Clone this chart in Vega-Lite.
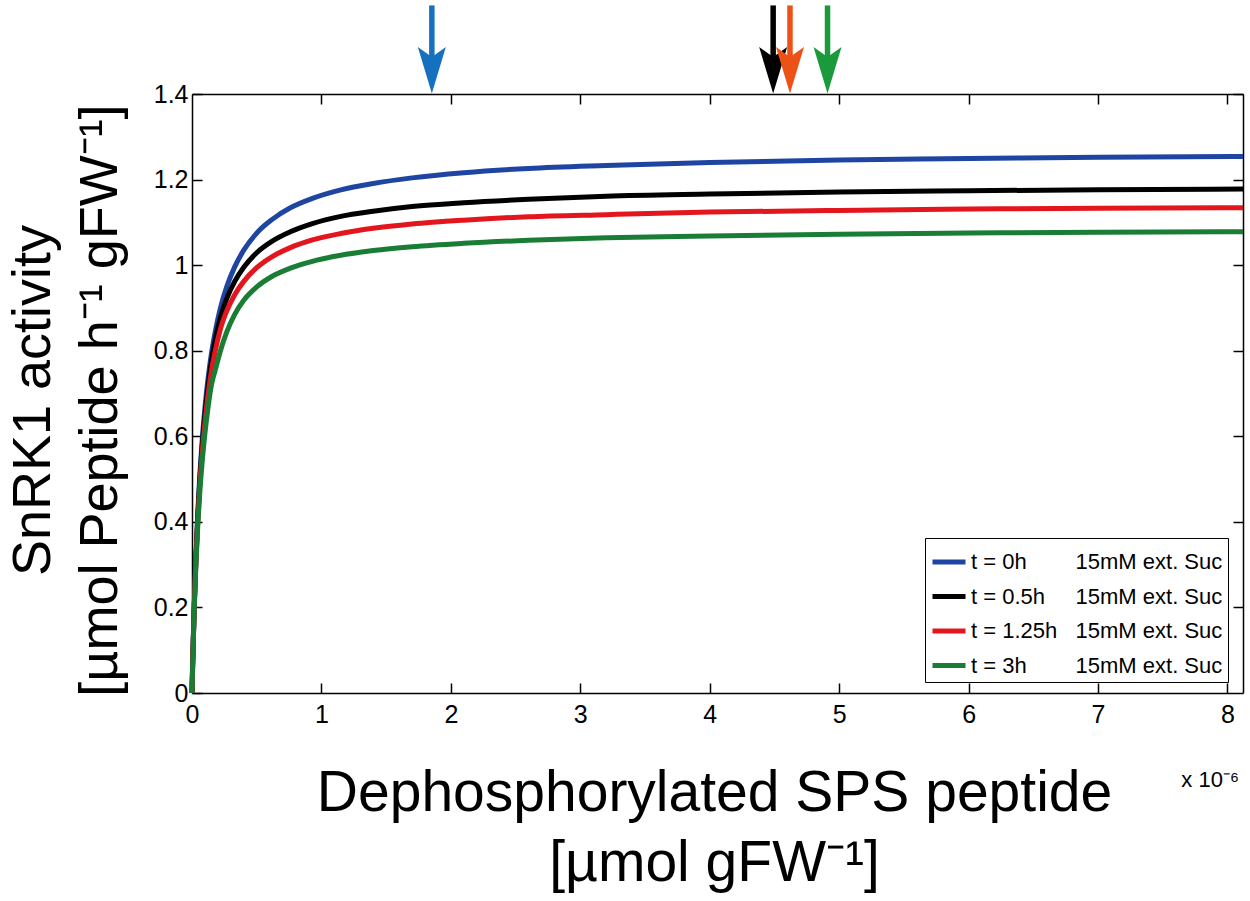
{
  "$schema": "https://vega.github.io/schema/vega-lite/v6.json",
  "width": 1051,
  "height": 599,
  "autosize": {"type": "none"},
  "padding": {"left": 192, "top": 94, "right": 7, "bottom": 208},
  "background": "white",
  "datasets": {
    "curves": [
      {"time": "t = 0h", "peptide": 0, "activity": 0},
      {"time": "t = 0h", "peptide": 0.005, "activity": 0.067},
      {"time": "t = 0h", "peptide": 0.01, "activity": 0.127},
      {"time": "t = 0h", "peptide": 0.02, "activity": 0.231},
      {"time": "t = 0h", "peptide": 0.03, "activity": 0.317},
      {"time": "t = 0h", "peptide": 0.045, "activity": 0.423},
      {"time": "t = 0h", "peptide": 0.06, "activity": 0.507},
      {"time": "t = 0h", "peptide": 0.08, "activity": 0.597},
      {"time": "t = 0h", "peptide": 0.1, "activity": 0.667},
      {"time": "t = 0h", "peptide": 0.125, "activity": 0.737},
      {"time": "t = 0h", "peptide": 0.15, "activity": 0.793},
      {"time": "t = 0h", "peptide": 0.18, "activity": 0.845},
      {"time": "t = 0h", "peptide": 0.22, "activity": 0.9},
      {"time": "t = 0h", "peptide": 0.27, "activity": 0.951},
      {"time": "t = 0h", "peptide": 0.33, "activity": 0.996},
      {"time": "t = 0h", "peptide": 0.4, "activity": 1.035},
      {"time": "t = 0h", "peptide": 0.5, "activity": 1.075},
      {"time": "t = 0h", "peptide": 0.62, "activity": 1.107},
      {"time": "t = 0h", "peptide": 0.76, "activity": 1.134},
      {"time": "t = 0h", "peptide": 0.93, "activity": 1.156},
      {"time": "t = 0h", "peptide": 1.15, "activity": 1.176},
      {"time": "t = 0h", "peptide": 1.4, "activity": 1.191},
      {"time": "t = 0h", "peptide": 1.7, "activity": 1.204},
      {"time": "t = 0h", "peptide": 2.1, "activity": 1.216},
      {"time": "t = 0h", "peptide": 2.6, "activity": 1.226},
      {"time": "t = 0h", "peptide": 3.2, "activity": 1.233},
      {"time": "t = 0h", "peptide": 4, "activity": 1.24},
      {"time": "t = 0h", "peptide": 5, "activity": 1.246},
      {"time": "t = 0h", "peptide": 6, "activity": 1.249},
      {"time": "t = 0h", "peptide": 7, "activity": 1.252},
      {"time": "t = 0h", "peptide": 8.12, "activity": 1.254},
      {"time": "t = 0.5h", "peptide": 0, "activity": 0},
      {"time": "t = 0.5h", "peptide": 0.005, "activity": 0.066},
      {"time": "t = 0.5h", "peptide": 0.01, "activity": 0.125},
      {"time": "t = 0.5h", "peptide": 0.02, "activity": 0.228},
      {"time": "t = 0.5h", "peptide": 0.03, "activity": 0.312},
      {"time": "t = 0.5h", "peptide": 0.045, "activity": 0.414},
      {"time": "t = 0.5h", "peptide": 0.06, "activity": 0.495},
      {"time": "t = 0.5h", "peptide": 0.08, "activity": 0.582},
      {"time": "t = 0.5h", "peptide": 0.1, "activity": 0.65},
      {"time": "t = 0.5h", "peptide": 0.125, "activity": 0.718},
      {"time": "t = 0.5h", "peptide": 0.15, "activity": 0.775},
      {"time": "t = 0.5h", "peptide": 0.18, "activity": 0.826},
      {"time": "t = 0.5h", "peptide": 0.22, "activity": 0.878},
      {"time": "t = 0.5h", "peptide": 0.27, "activity": 0.923},
      {"time": "t = 0.5h", "peptide": 0.33, "activity": 0.962},
      {"time": "t = 0.5h", "peptide": 0.4, "activity": 0.995},
      {"time": "t = 0.5h", "peptide": 0.5, "activity": 1.029},
      {"time": "t = 0.5h", "peptide": 0.62, "activity": 1.056},
      {"time": "t = 0.5h", "peptide": 0.76, "activity": 1.078},
      {"time": "t = 0.5h", "peptide": 0.93, "activity": 1.097},
      {"time": "t = 0.5h", "peptide": 1.15, "activity": 1.114},
      {"time": "t = 0.5h", "peptide": 1.4, "activity": 1.126},
      {"time": "t = 0.5h", "peptide": 1.7, "activity": 1.137},
      {"time": "t = 0.5h", "peptide": 2.1, "activity": 1.146},
      {"time": "t = 0.5h", "peptide": 2.6, "activity": 1.154},
      {"time": "t = 0.5h", "peptide": 3.2, "activity": 1.161},
      {"time": "t = 0.5h", "peptide": 4, "activity": 1.166},
      {"time": "t = 0.5h", "peptide": 5, "activity": 1.171},
      {"time": "t = 0.5h", "peptide": 6, "activity": 1.174},
      {"time": "t = 0.5h", "peptide": 7, "activity": 1.176},
      {"time": "t = 0.5h", "peptide": 8.12, "activity": 1.178},
      {"time": "t = 1.25h", "peptide": 0, "activity": 0},
      {"time": "t = 1.25h", "peptide": 0.005, "activity": 0.065},
      {"time": "t = 1.25h", "peptide": 0.01, "activity": 0.123},
      {"time": "t = 1.25h", "peptide": 0.02, "activity": 0.224},
      {"time": "t = 1.25h", "peptide": 0.03, "activity": 0.306},
      {"time": "t = 1.25h", "peptide": 0.045, "activity": 0.405},
      {"time": "t = 1.25h", "peptide": 0.06, "activity": 0.484},
      {"time": "t = 1.25h", "peptide": 0.08, "activity": 0.566},
      {"time": "t = 1.25h", "peptide": 0.1, "activity": 0.632},
      {"time": "t = 1.25h", "peptide": 0.125, "activity": 0.7},
      {"time": "t = 1.25h", "peptide": 0.15, "activity": 0.752},
      {"time": "t = 1.25h", "peptide": 0.18, "activity": 0.8},
      {"time": "t = 1.25h", "peptide": 0.22, "activity": 0.851},
      {"time": "t = 1.25h", "peptide": 0.27, "activity": 0.894},
      {"time": "t = 1.25h", "peptide": 0.33, "activity": 0.931},
      {"time": "t = 1.25h", "peptide": 0.4, "activity": 0.962},
      {"time": "t = 1.25h", "peptide": 0.5, "activity": 0.994},
      {"time": "t = 1.25h", "peptide": 0.62, "activity": 1.02},
      {"time": "t = 1.25h", "peptide": 0.76, "activity": 1.041},
      {"time": "t = 1.25h", "peptide": 0.93, "activity": 1.059},
      {"time": "t = 1.25h", "peptide": 1.15, "activity": 1.074},
      {"time": "t = 1.25h", "peptide": 1.4, "activity": 1.086},
      {"time": "t = 1.25h", "peptide": 1.7, "activity": 1.096},
      {"time": "t = 1.25h", "peptide": 2.1, "activity": 1.105},
      {"time": "t = 1.25h", "peptide": 2.6, "activity": 1.113},
      {"time": "t = 1.25h", "peptide": 3.2, "activity": 1.118},
      {"time": "t = 1.25h", "peptide": 4, "activity": 1.124},
      {"time": "t = 1.25h", "peptide": 5, "activity": 1.128},
      {"time": "t = 1.25h", "peptide": 6, "activity": 1.131},
      {"time": "t = 1.25h", "peptide": 7, "activity": 1.133},
      {"time": "t = 1.25h", "peptide": 8.12, "activity": 1.134},
      {"time": "t = 3h", "peptide": 0, "activity": 0},
      {"time": "t = 3h", "peptide": 0.005, "activity": 0.064},
      {"time": "t = 3h", "peptide": 0.01, "activity": 0.121},
      {"time": "t = 3h", "peptide": 0.02, "activity": 0.219},
      {"time": "t = 3h", "peptide": 0.03, "activity": 0.298},
      {"time": "t = 3h", "peptide": 0.045, "activity": 0.393},
      {"time": "t = 3h", "peptide": 0.06, "activity": 0.468},
      {"time": "t = 3h", "peptide": 0.08, "activity": 0.545},
      {"time": "t = 3h", "peptide": 0.1, "activity": 0.607},
      {"time": "t = 3h", "peptide": 0.125, "activity": 0.67},
      {"time": "t = 3h", "peptide": 0.15, "activity": 0.72},
      {"time": "t = 3h", "peptide": 0.18, "activity": 0.755},
      {"time": "t = 3h", "peptide": 0.22, "activity": 0.8},
      {"time": "t = 3h", "peptide": 0.27, "activity": 0.845},
      {"time": "t = 3h", "peptide": 0.33, "activity": 0.885},
      {"time": "t = 3h", "peptide": 0.4, "activity": 0.918},
      {"time": "t = 3h", "peptide": 0.5, "activity": 0.949},
      {"time": "t = 3h", "peptide": 0.62, "activity": 0.974},
      {"time": "t = 3h", "peptide": 0.76, "activity": 0.993},
      {"time": "t = 3h", "peptide": 0.93, "activity": 1.009},
      {"time": "t = 3h", "peptide": 1.15, "activity": 1.023},
      {"time": "t = 3h", "peptide": 1.4, "activity": 1.034},
      {"time": "t = 3h", "peptide": 1.7, "activity": 1.043},
      {"time": "t = 3h", "peptide": 2.1, "activity": 1.051},
      {"time": "t = 3h", "peptide": 2.6, "activity": 1.058},
      {"time": "t = 3h", "peptide": 3.2, "activity": 1.064},
      {"time": "t = 3h", "peptide": 4, "activity": 1.068},
      {"time": "t = 3h", "peptide": 5, "activity": 1.072},
      {"time": "t = 3h", "peptide": 6, "activity": 1.075},
      {"time": "t = 3h", "peptide": 7, "activity": 1.077},
      {"time": "t = 3h", "peptide": 8.12, "activity": 1.078}
    ],
    "arrows": [
      {"time": "t = 0.5h", "peptide": 4.49},
      {"time": "t = 1.25h", "peptide": 4.62},
      {"time": "t = 3h", "peptide": 4.91},
      {"time": "t = 0h", "peptide": 1.853}
    ],
    "notes": [
      {"note": "x 10⁻⁶"}
    ]
  },
  "layer": [
    {
      "data": {"name": "curves"},
      "mark": {"type": "line", "strokeWidth": 5, "interpolate": "monotone"},
      "encoding": {
        "x": {
          "field": "peptide",
          "type": "quantitative",
          "scale": {"domain": [0, 8.12], "nice": false, "zero": true},
          "axis": {
            "orient": "bottom",
            "values": [0, 1, 2, 3, 4, 5, 6, 7, 8],
            "format": "~g",
            "labelFlush": false,
            "labelFontSize": 25,
            "labelPadding": 19,
            "title": ["Dephosphorylated SPS peptide", "[µmol gFW⁻¹]"],
            "titleFontSize": 57,
            "titleX": 522,
            "titleY": 117,
            "titleBaseline": "alphabetic",
            "titleLineHeight": 70
          }
        },
        "y": {
          "field": "activity",
          "type": "quantitative",
          "scale": {"domain": [0, 1.4], "nice": false},
          "axis": {
            "orient": "left",
            "values": [0, 0.2, 0.4, 0.6, 0.8, 1, 1.2, 1.4],
            "format": "~g",
            "labelFontSize": 25,
            "labelPadding": 14,
            "title": ["SnRK1 activity", "[µmol Peptide h⁻¹ gFW⁻¹]"],
            "titleFontSize": 54,
            "titleX": -143,
            "titleY": 306,
            "titleAngle": 270,
            "titleBaseline": "alphabetic",
            "titleLineHeight": 67
          }
        },
        "color": {
          "field": "time",
          "type": "nominal",
          "scale": {
            "domain": ["t = 0h", "t = 0.5h", "t = 1.25h", "t = 3h"],
            "range": ["#1f45a2", "#000000", "#e3161d", "#1a7d36"]
          },
          "legend": {
            "orient": "none",
            "legendX": 733,
            "legendY": 444,
            "title": null,
            "symbolType": "stroke",
            "symbolSize": 1089,
            "symbolStrokeWidth": 5,
            "labelFontSize": 22,
            "labelLimit": 400,
            "labelOffset": 3,
            "rowPadding": 4.5,
            "padding": 5,
            "strokeColor": "black",
            "fillColor": "white",
            "labelExpr": "datum.label + (datum.label == 't = 1.25h' ? '\u00a0\u00a0\u00a0' : datum.label == 't = 0.5h' ? '\u00a0\u00a0\u00a0\u00a0\u00a0' : '\u00a0\u00a0\u00a0\u00a0\u00a0\u00a0\u00a0\u00a0') + '15mM ext. Suc'"
          }
        }
      }
    },
    {
      "data": {"name": "arrows"},
      "mark": {"type": "rule", "strokeWidth": 5.5},
      "encoding": {
        "x": {
          "field": "peptide",
          "type": "quantitative",
          "scale": {"domain": [0, 8.12], "nice": false, "zero": true},
          "axis": {"orient": "top", "values": [1, 2, 3, 4, 5, 6, 7, 8], "labels": false, "title": null}
        },
        "y": {
          "datum": 1.48,
          "type": "quantitative",
          "scale": {"domain": [0, 1.4], "nice": false},
          "axis": {"orient": "right", "values": [0.2, 0.4, 0.6, 0.8, 1, 1.2, 1.4], "labels": false, "title": null}
        },
        "y2": {"datum": 1.607},
        "stroke": {
          "field": "time",
          "type": "nominal",
          "scale": {
            "domain": ["t = 0h", "t = 0.5h", "t = 1.25h", "t = 3h"],
            "range": ["#1570c0", "#000000", "#ee5116", "#1b9a3c"]
          },
          "legend": null
        }
      }
    },
    {
      "data": {"name": "arrows"},
      "mark": {
        "type": "point",
        "filled": true,
        "opacity": 1,
        "strokeWidth": 0,
        "size": 784,
        "shape": "M0,1.66L-1,-1.66L0,-0.95L1,-1.66Z"
      },
      "encoding": {
        "x": {
          "field": "peptide",
          "type": "quantitative",
          "scale": {"domain": [0, 8.12], "nice": false, "zero": true},
          "axis": null
        },
        "y": {
          "datum": 1.4556,
          "type": "quantitative",
          "scale": {"domain": [0, 1.4], "nice": false},
          "axis": null
        },
        "fill": {
          "field": "time",
          "type": "nominal",
          "scale": {
            "domain": ["t = 0h", "t = 0.5h", "t = 1.25h", "t = 3h"],
            "range": ["#1570c0", "#000000", "#ee5116", "#1b9a3c"]
          },
          "legend": null
        }
      }
    },
    {
      "data": {"name": "notes"},
      "mark": {"type": "text", "align": "right", "baseline": "alphabetic", "fontSize": 22, "dx": -4, "dy": 94},
      "encoding": {
        "x": {
          "datum": 8.12,
          "type": "quantitative",
          "scale": {"domain": [0, 8.12], "nice": false, "zero": true},
          "axis": null
        },
        "y": {
          "datum": 0,
          "type": "quantitative",
          "scale": {"domain": [0, 1.4], "nice": false},
          "axis": null
        },
        "text": {"field": "note"}
      }
    }
  ],
  "resolve": {"axis": {"x": "independent", "y": "independent"}},
  "config": {
    "font": "Liberation Sans",
    "view": {"stroke": null},
    "axis": {
      "grid": false,
      "domainColor": "black",
      "domainWidth": 1.5,
      "tickColor": "black",
      "tickWidth": 1.5,
      "tickSize": -10,
      "labelFont": "Liberation Sans",
      "labelFontSize": 25,
      "labelColor": "black",
      "labelOverlap": false,
      "titleFont": "Liberation Sans",
      "titleFontSize": 56,
      "titleFontWeight": "normal",
      "titleColor": "black"
    },
    "legend": {
      "labelFont": "Liberation Sans",
      "labelColor": "black"
    },
    "text": {"font": "Liberation Sans", "color": "black"}
  }
}
